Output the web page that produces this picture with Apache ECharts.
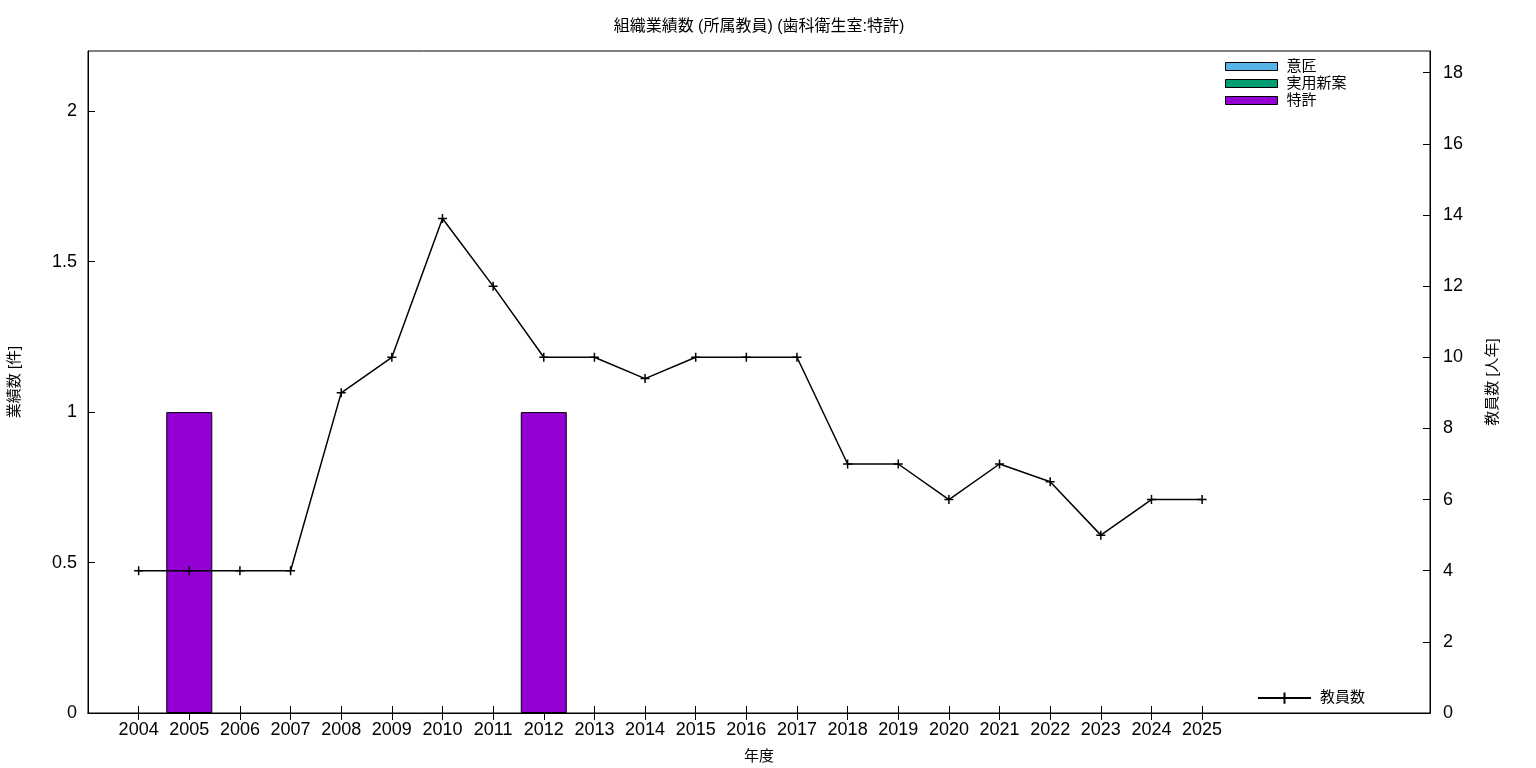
<!DOCTYPE html>
<html>
<head>
<meta charset="utf-8">
<script src="https://cdn.jsdelivr.net/npm/echarts@6/dist/echarts.min.js"></script>
<style>
html,body{margin:0;padding:0;background:#fff;}
#chart{width:1536px;height:768px;}
</style>
</head>
<body>
<div id="chart"></div>
<script>
const years = [2004,2005,2006,2007,2008,2009,2010,2011,2012,2013,2014,2015,2016,2017,2018,2019,2020,2021,2022,2023,2024,2025];
const designCounts = [];            // 意匠
const utilityCounts = [];           // 実用新案
const patentYears = [2005, 2012];   // 特許
const patentCounts = [1, 1];
const staffCounts = [4,4,4,4,9,10,13.9,12,10,10,9.4,10,10,10,7,7,6,7,6.5,5,6,6];
const leftTicks = [0, 0.5, 1, 1.5, 2];
const rightTicks = [0, 2, 4, 6, 8, 10, 12, 14, 16, 18];

const FONT = "'Liberation Sans','Noto Sans CJK JP',sans-serif";
const plus = 'path://M0,5L10,5M5,0L5,10';

const chart = echarts.init(document.getElementById('chart'));
const xCommon = {
  type: 'value', min: 2003, max: 2029.5,
  splitLine: {show: false},
  axisLine: {show: true, lineStyle: {color: '#000', width: 1}},
};
chart.setOption({
  animation: false,
  backgroundColor: '#fff',
  textStyle: {fontFamily: FONT},
  title: {
    text: '組織業績数 (所属教員) (歯科衛生室:特許)',
    left: 754, top: 14, textAlign: 'center',
    textStyle: {fontFamily: FONT, fontSize: 16, fontWeight: 'normal', color: '#000'}
  },
  grid: {left: 88, right: 106, top: 51, bottom: 55, show: true, borderColor: '#000', borderWidth: 1,
         containLabel: false, outerBoundsMode: 'none'},
  legend: [
    {
      data: ['意匠', '実用新案', '特許'],
      orient: 'vertical', left: 1225, top: 58, padding: 0,
      itemWidth: 52, itemHeight: 8, itemGap: 0, icon: 'rect',
      itemStyle: {borderWidth: 1, borderColor: '#000'},
      textStyle: {fontFamily: FONT, fontSize: 15, color: '#000', lineHeight: 17, padding: [0,0,0,4]},
      selectedMode: false
    },
    {
      data: ['教員数'],
      left: 1257, top: 690, padding: 0,
      itemWidth: 53, itemHeight: 14, itemGap: 0,
      textStyle: {fontFamily: FONT, fontSize: 15, color: '#000', padding: [0,0,0,4]},
      selectedMode: false
    }
  ],
  xAxis: [
    Object.assign({}, xCommon, {
      position: 'bottom',
      name: '年度', nameLocation: 'middle', nameGap: 36,
      nameTextStyle: {fontFamily: FONT, fontSize: 15, color: '#000'},
      axisTick: {show: true, inside: true, length: 7, lineStyle: {color: '#000'}, customValues: years},
      axisLabel: {show: true, margin: 8, fontSize: 18, color: '#000', fontFamily: FONT, customValues: years, formatter: v => String(v)}
    }),
    Object.assign({}, xCommon, {
      position: 'top',
      axisTick: {show: true, inside: true, length: 7, lineStyle: {color: '#000'}, customValues: years},
      axisLabel: {show: false}
    })
  ],
  yAxis: [
    {
      type: 'value', min: 0, max: 2.2, position: 'left',
      name: '業績数 [件]', nameLocation: 'middle', nameGap: 66, nameRotate: 90,
      nameTextStyle: {fontFamily: FONT, fontSize: 15, color: '#000'},
      splitLine: {show: false},
      axisLine: {show: true, lineStyle: {color: '#000'}},
      axisTick: {show: true, inside: true, length: 7, lineStyle: {color: '#000'}, customValues: leftTicks},
      axisLabel: {margin: 11, fontSize: 18, color: '#000', fontFamily: FONT, customValues: leftTicks, formatter: v => String(v)}
    },
    {
      type: 'value', min: 0, max: 18.61, position: 'right',
      name: '教員数 [人年]', nameLocation: 'middle', nameGap: 55, nameRotate: 90,
      nameTextStyle: {fontFamily: FONT, fontSize: 15, color: '#000'},
      splitLine: {show: false},
      axisLine: {show: true, lineStyle: {color: '#000'}},
      axisTick: {show: true, inside: true, length: 7, lineStyle: {color: '#000'}, customValues: rightTicks},
      axisLabel: {margin: 13, fontSize: 18, color: '#000', fontFamily: FONT, customValues: rightTicks, formatter: v => String(v)}
    }
  ],
  series: [
    {
      name: '意匠', type: 'bar', stack: 'works', xAxisIndex: 0, yAxisIndex: 0,
      barWidth: 46,
      itemStyle: {color: '#56b4e9', borderColor: '#000', borderWidth: 1},
      data: designCounts
    },
    {
      name: '実用新案', type: 'bar', stack: 'works', xAxisIndex: 0, yAxisIndex: 0,
      barWidth: 46,
      itemStyle: {color: '#009e73', borderColor: '#000', borderWidth: 1},
      data: utilityCounts
    },
    {
      name: '特許', type: 'bar', stack: 'works', xAxisIndex: 0, yAxisIndex: 0,
      barWidth: 46,
      itemStyle: {color: '#9400d3', borderColor: '#000', borderWidth: 1},
      data: patentYears.map((y, i) => [y, patentCounts[i]])
    },
    {
      name: '教員数', type: 'line', xAxisIndex: 0, yAxisIndex: 1,
      symbol: plus, symbolSize: 9, showAllSymbol: true,
      lineStyle: {color: '#000', width: 1.5},
      itemStyle: {color: 'none', borderColor: '#000', borderWidth: 1.5},
      data: years.map((y, i) => [y, staffCounts[i]]),
      z: 5
    }
  ]
});
</script>
</body>
</html>
